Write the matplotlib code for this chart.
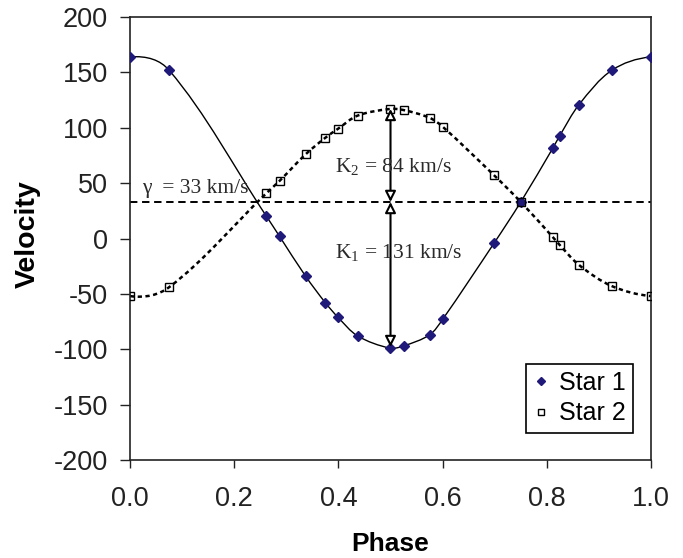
import numpy as np
import matplotlib
matplotlib.use('Agg')
import matplotlib.pyplot as plt
from matplotlib.path import Path
from matplotlib.patches import PathPatch
from matplotlib.lines import Line2D

# phase points (same for both stars)
phase = [0.0, 0.075, 0.262, 0.287, 0.337, 0.375, 0.399, 0.437, 0.499, 0.525,
         0.575, 0.600, 0.699, 0.750, 0.812, 0.825, 0.862, 0.925, 1.0]
star1 = [164, 152, 20, 2, -34, -58, -71, -88, -99, -97,
         -87, -73, -4, 33, 82, 93, 121, 152, 164]
star2 = [-52, -44, 41, 52, 76, 91, 99, 111, 117, 116,
         109, 101, 57, 33, 1, -6, -24, -43, -52]
gamma = 33
K1 = 131
K2 = 84
yticks = [-200, -150, -100, -50, 0, 50, 100, 150, 200]
xticks = [0.0, 0.2, 0.4, 0.6, 0.8, 1.0]

plt.rcParams['font.family'] = 'Liberation Sans'
plt.rcParams['mathtext.fontset'] = 'custom'
plt.rcParams['mathtext.rm'] = 'Liberation Serif'
plt.rcParams['axes.unicode_minus'] = False


def smooth_path(x, y, sx=521.0, sy=1.1):
    # smoothed line like the spreadsheet one: bezier through every point,
    # tangents scaled by chord length (computed in screen-like units)
    p = np.column_stack([np.asarray(x) * sx, np.asarray(y) * sy]).astype(float)
    n = len(p)
    d = np.linalg.norm(np.diff(p, axis=0), axis=1)
    T = np.zeros_like(p)
    for i in range(1, n - 1):
        T[i] = (p[i + 1] - p[i - 1]) / (d[i - 1] + d[i])
    T[0] = 2 * (p[1] - p[0]) / d[0] - T[1]
    T[-1] = 2 * (p[-1] - p[-2]) / d[-1] - T[-2]
    verts = [p[0]]
    codes = [Path.MOVETO]
    for i in range(n - 1):
        c1 = p[i] + T[i] * d[i] / 3
        c2 = p[i + 1] - T[i + 1] * d[i] / 3
        verts += [c1, c2, p[i + 1]]
        codes += [Path.CURVE4] * 3
    verts = np.array(verts) / [sx, sy]
    return Path(verts, codes)


fig = plt.figure(figsize=(6.83, 5.58), dpi=100)
ax = fig.add_axes([0.1903, 0.1756, 0.7629, 0.7939])

ax.add_patch(PathPatch(smooth_path(phase, star1), fill=False, ec='black', lw=1.0))
ax.add_patch(PathPatch(smooth_path(phase, star2), fill=False, ec='black', lw=1.8,
                       ls=(0, (1.7, 1.4))))

ax.plot(phase, star1, ls='none', marker='D', ms=5.5, mfc='#1f1a7a', mec='#1f1a7a', zorder=3)
ax.plot(phase, star2, ls='none', marker='s', ms=6, mfc='none', mec='black', mew=1.0, zorder=3)

ax.axhline(gamma, color='black', lw=1.4, ls=(0, (3.8, 2.4)))

# K arrows
arr = dict(arrowstyle='<|-|>', fc='white', ec='black', lw=1.5,
           mutation_scale=16, shrinkA=0, shrinkB=0)
ax.annotate('', xy=(0.5, gamma + K2), xytext=(0.5, gamma), arrowprops=arr)
ax.annotate('', xy=(0.5, gamma - K1), xytext=(0.5, gamma), arrowprops=arr)

tc = '#2a2a2a'
ax.text(0.023, 41, 'γ  = %d km/s' % gamma, family='Liberation Serif',
        fontsize=15.5, color=tc, va='baseline')
ax.text(0.393, 60, r'$\mathrm{K}_2$ = %d km/s' % K2, family='Liberation Serif',
        fontsize=15.5, color=tc, va='baseline')
ax.text(0.393, -18, r'$\mathrm{K}_1$ = %d km/s' % K1, family='Liberation Serif',
        fontsize=15.5, color=tc, va='baseline')

ax.set_xlim(0, 1)
ax.set_ylim(-200, 200)
ax.set_xticks(xticks)
ax.set_xticklabels(['%.1f' % t for t in xticks])
ax.set_yticks(yticks)
ax.tick_params(labelsize=19.5, length=7, width=1, direction='out', colors='#222222')
ax.tick_params(axis='y', pad=9)
ax.tick_params(axis='x', length=6, pad=13)
for s in ax.spines.values():
    s.set_linewidth(1.2)
    s.set_color('#222222')

ax.set_xlabel('Phase', fontsize=19, fontweight='bold', labelpad=14)
ax.set_ylabel('Velocity', fontsize=20.5, fontweight='bold')
ax.yaxis.set_label_coords(-0.171, 0.51)

h1 = Line2D([], [], ls='none', marker='D', ms=4.5, mfc='#1f1a7a', mec='#1f1a7a')
h2 = Line2D([], [], ls='none', marker='s', ms=5, mfc='white', mec='black', mew=1.0)
leg = ax.legend([h1, h2], ['Star 1', 'Star 2'], loc='lower right',
                bbox_to_anchor=(0.9655, 0.061), borderaxespad=0, fontsize=18,
                fancybox=False, framealpha=1, edgecolor='black',
                handlelength=0.6, handletextpad=0.4, borderpad=0.3,
                labelspacing=0.25)
leg.get_frame().set_linewidth(1.2)

fig.savefig('out.png', dpi=100)
